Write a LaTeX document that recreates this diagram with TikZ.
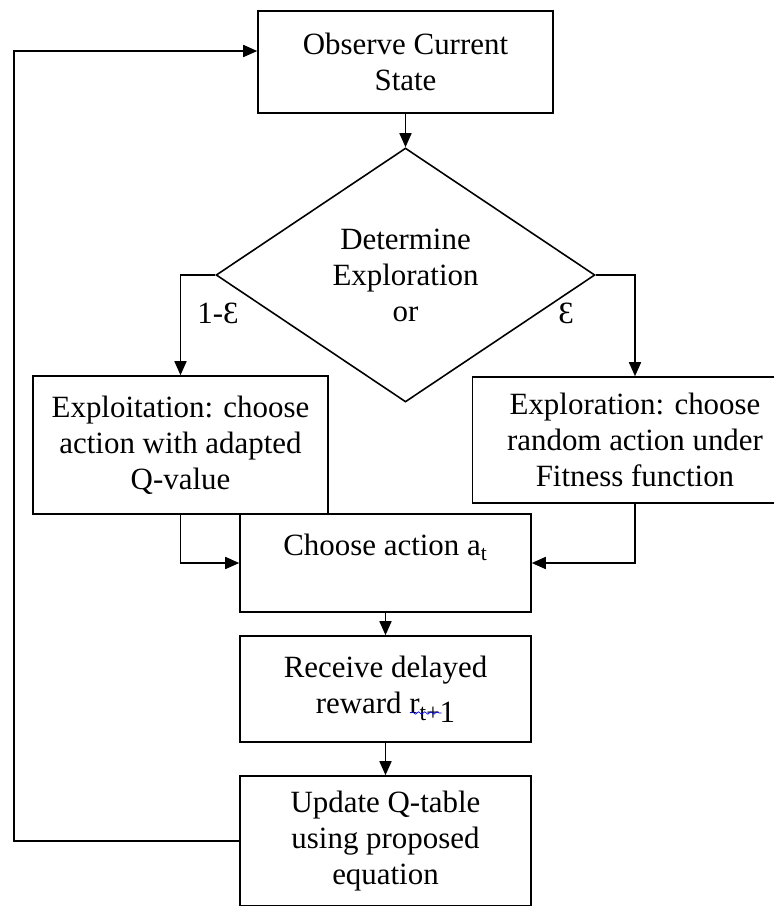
\documentclass[tikz,border=0pt]{standalone}
\usepackage{fontspec}
\setmainfont{Liberation Serif}
\usetikzlibrary{shapes.geometric,arrows.meta,decorations.pathmorphing,calc}

\begin{document}
\begin{tikzpicture}[x=0.02cm, y=-0.02cm, font=\fontsize{17.6}{20.5}\selectfont,
  box/.style={draw, line width=0.9pt, align=center, inner sep=0pt},
  arr/.style={-{Triangle[length=0.28cm,width=0.24cm]}, line width=0.9pt}]
  % page frame (pixel units, y down)
  \useasboundingbox (0,0) rectangle (774,906);

  % Boxes
  \node[box, minimum width=5.9cm, minimum height=2.04cm] (observe) at (405.5,62)
    {Observe Current\\State};
  \node[box, diamond, aspect=1.49, minimum width=7.58cm, minimum height=5.08cm] (decide) at (405.5,275)
    {Determine\\Exploration\\or};
  \node[box, minimum width=5.9cm, minimum height=2.76cm] (exploit) at (180.5,445)
    {Exploitation: choose\\action with adapted\\Q-value};
  \node[box, minimum width=6.5cm, minimum height=2.52cm] (explore) at (635,440)
    {Exploration: choose\\random action under\\Fitness function};
  \node[box, minimum width=5.82cm, minimum height=1.96cm] (choose) at (385.5,563)
    {Choose action a\textsubscript{t}\\ \mbox{}};
  \node[box, minimum width=5.82cm, minimum height=2.12cm] (receive) at (385.5,689)
    {Receive delayed\\reward r\raisebox{-0.25em}{\fontsize{13.5}{14}\selectfont t+}\raisebox{-0.3em}{1}};
  \node[box, minimum width=5.82cm, minimum height=2.6cm] (update) at (385.5,841)
    {Update Q-table\\using proposed\\equation};

  % Branch labels
  \node (lexploit) at (218,313) {1-Ɛ};
  \node (lexplore) at (566,313) {Ɛ};

  % Connectors
  \draw[arr] (observe) -- (decide);
  \draw[arr] (decide.west) -| (exploit.north);
  \draw[arr] (decide.east) -| (explore.north);
  \draw[arr] (exploit.south) |- (choose.west);
  \draw[arr] (explore.south) |- (choose.east);
  \draw[arr] (choose) -- (receive);
  \draw[arr] (receive) -- (update);

  % loop back
  \coordinate (back) at (14,0);
  \draw[arr] (update.west) -- (update.west -| back) |- ([yshift=0.22cm]observe.west);

  % spell-check squiggle
  \draw[blue, line width=0.4pt, decorate, decoration={snake, amplitude=0.7pt, segment length=3.5pt}]
    ($(receive.center)+(25,24)$) -- ($(receive.center)+(56,24)$);
\end{tikzpicture}
\end{document}
